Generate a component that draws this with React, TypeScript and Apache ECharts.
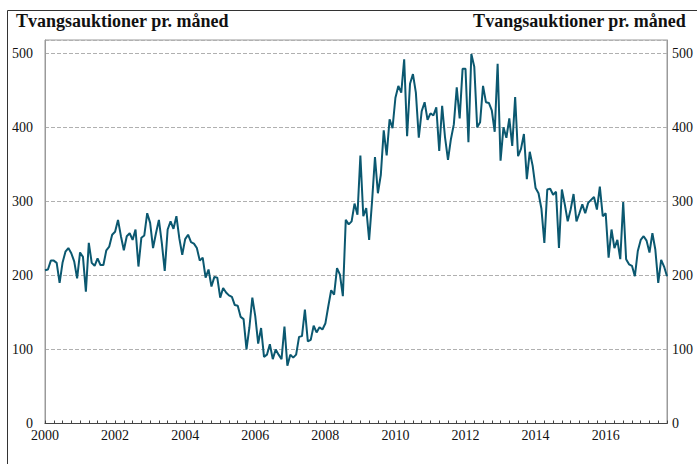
import React, { useEffect, useRef } from "react";
import * as echarts from "echarts";

const TITLE = "Tvangsauktioner pr. måned";
const START_YEAR = 2000;
const X_MAX = 2017.75;
const Y_MAX = 518;
const YEAR_LABELS = [2000, 2002, 2004, 2006, 2008, 2010, 2012, 2014, 2016];

// Monthly values, Jan 2000 onwards
const v2000 = [207, 208, 220, 220, 217, 190, 217, 232, 237, 230, 219, 196];
const v2001 = [231, 225, 178, 244, 217, 213, 223, 214, 214, 234, 239, 255];
const v2002 = [259, 275, 253, 234, 253, 257, 248, 262, 212, 251, 254, 284];
const v2003 = [271, 237, 257, 275, 244, 206, 262, 273, 263, 280, 250, 228];
const v2004 = [249, 255, 245, 243, 237, 220, 224, 197, 208, 185, 198, 197];
const v2005 = [170, 183, 177, 173, 171, 160, 159, 144, 141, 100, 130, 170];
const v2006 = [145, 108, 129, 90, 93, 107, 87, 100, 93, 87, 131, 78];
const v2007 = [93, 89, 93, 117, 118, 154, 111, 113, 132, 123, 130, 127];
const v2008 = [135, 158, 180, 174, 210, 201, 172, 275, 269, 273, 297, 282];
const v2009 = [362, 280, 291, 248, 300, 360, 311, 336, 396, 362, 411, 399];
const v2010 = [440, 456, 447, 492, 388, 459, 472, 447, 386, 422, 434, 410];
const v2011 = [419, 416, 427, 368, 429, 386, 356, 384, 404, 454, 412, 479];
const v2012 = [479, 380, 499, 482, 400, 407, 456, 434, 433, 423, 394, 486];
const v2013 = [355, 400, 386, 412, 375, 441, 361, 371, 391, 330, 367, 348];
const v2014 = [318, 311, 290, 244, 316, 317, 309, 313, 237, 316, 296, 273];
const v2015 = [289, 310, 273, 284, 296, 284, 298, 302, 306, 289, 320, 280];
const v2016 = [284, 224, 262, 237, 248, 222, 299, 222, 215, 213, 199, 233];
const v2017 = [248, 253, 247, 231, 257, 235, 190, 221, 212, 199];

const monthly = [
  ...v2000, ...v2001, ...v2002, ...v2003, ...v2004, ...v2005,
  ...v2006, ...v2007, ...v2008, ...v2009, ...v2010, ...v2011,
  ...v2012, ...v2013, ...v2014, ...v2015, ...v2016, ...v2017,
];

const FONT = "'Liberation Serif', serif";

export default function App() {
  const ref = useRef<HTMLDivElement>(null);
  useEffect(() => {
    if (!ref.current) return;
    const chart = echarts.init(ref.current, undefined, { renderer: "svg" });
    const data = monthly.map((v, i) => [START_YEAR + i / 12, v]);
    const yAxisBase = {
      type: "value",
      min: 0,
      max: Y_MAX,
      interval: 100,
      axisLine: { show: true, lineStyle: { color: "#9a9a9a", width: 1 } },
      axisTick: { show: false },
      splitLine: { show: true, lineStyle: { color: "#b0b0b0", type: [4, 2], width: 1 } },
      axisLabel: {
        color: "#111",
        fontFamily: FONT,
        fontSize: 14,
        formatter: (v: number) => (v % 100 === 0 ? String(v) : ""),
      },
    };
    chart.setOption({
      animation: false,
      backgroundColor: "#fff",
      grid: {
        left: 45,
        right: 30,
        top: 40,
        bottom: 40.5,
        show: true,
        borderColor: "#9a9a9a",
        borderWidth: 1,
      },
      xAxis: {
        type: "value",
        min: START_YEAR,
        max: X_MAX,
        interval: 2,
        axisLine: { show: true, onZero: false, lineStyle: { color: "#444", width: 1 } },
        axisTick: { show: true, inside: true, length: 3, lineStyle: { color: "#444" } },
        minorTick: { show: true, splitNumber: 8, length: 3, lineStyle: { color: "#444" } },
        splitLine: { show: false },
        axisLabel: {
          color: "#111",
          fontFamily: FONT,
          fontSize: 14,
          margin: 5,
          formatter: (v: number) =>
            YEAR_LABELS.indexOf(v) >= 0 ? String(v) : "",
        },
      },
      yAxis: [
        { ...yAxisBase, position: "left", axisLabel: { ...yAxisBase.axisLabel, margin: 12 } },
        { ...yAxisBase, position: "right", splitLine: { show: false }, axisLabel: { ...yAxisBase.axisLabel, margin: 5 } },
      ],
      graphic: [
        { type: "line", shape: { x1: 7.5, y1: 10.5, x2: 697, y2: 10.5 }, style: { stroke: "#333", lineWidth: 1 } },
        { type: "line", shape: { x1: 7.5, y1: 10.5, x2: 7.5, y2: 464 }, style: { stroke: "#333", lineWidth: 1 } },
        {
          type: "text",
          left: 16,
          top: 12,
          style: { text: TITLE, fill: "#111", font: `bold 18px ${FONT}` },
        },
        {
          type: "text",
          right: 11,
          top: 12,
          style: { text: TITLE, fill: "#111", font: `bold 18px ${FONT}` },
        },
      ],
      series: [
        {
          type: "line",
          data,
          yAxisIndex: 0,
          showSymbol: false,
          symbol: "none",
          lineStyle: { color: "#0b5870", width: 2 },
        },
      ],
    });
    return () => chart.dispose();
  }, []);
  return (
    <div
      ref={ref}
      style={{ position: "fixed", left: 0, top: 0, width: 697, height: 464 }}
    />
  );
}
